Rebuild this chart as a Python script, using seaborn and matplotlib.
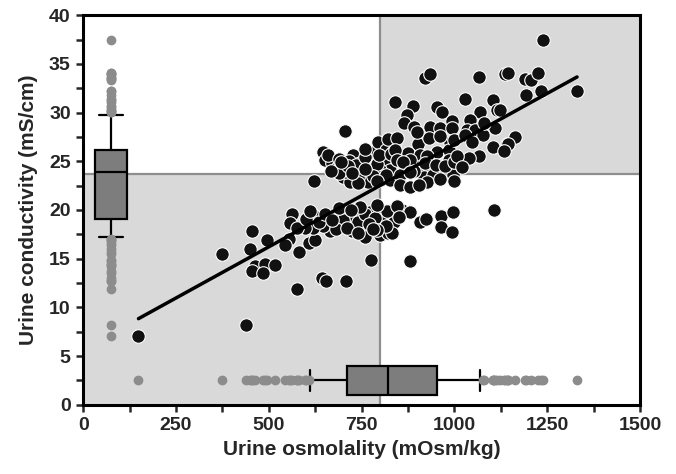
import numpy as np
import pandas as pd
import seaborn as sns
import matplotlib.pyplot as plt
from matplotlib.ticker import MultipleLocator

# urine osmolality (mOsm/kg) and conductivity (mS/cm)
osm = [149, 438, 373, 454, 495, 448, 463, 490, 517, 456, 484, 577, 643, 654, 707,
       775, 881, 553, 544, 580, 607, 625,
       562, 558, 620, 652, 683, 710, 733, 751, 773, 800, 827, 840, 800, 773, 755,
       724, 692, 665, 647, 620, 598, 575, 800, 822, 831, 858, 881, 836, 831, 908,
       924, 963, 997, 963, 993, 1107, 700, 740, 760, 785, 815, 790, 770, 635, 600,
       680, 710, 650, 760, 818, 690, 745, 790, 845, 610, 670, 720, 780, 850, 740,
       706, 646, 652, 670, 683, 701, 719, 706, 728, 724, 746, 751, 782, 795, 809,
       827, 800, 773, 768, 800, 827, 840, 849, 622, 660, 690, 715, 735, 760, 790,
       815, 740, 688, 780, 815, 835, 760, 798, 820, 668, 712, 830, 740, 790, 760,
       725, 695,
       921, 935, 840, 888, 952, 966, 872, 863, 890, 935, 962, 993, 993, 845, 903,
       930, 988, 876, 908, 952, 984, 840, 845, 867, 899, 935, 970, 997, 854, 917,
       943, 881, 925, 984, 854, 925, 880, 905, 960, 1000, 860, 890, 920, 950, 975,
       1000, 880, 1000, 960, 900,
       1067, 1137, 1029, 1105, 1114, 1069, 1042, 1033, 1056, 1078, 1110, 1141,
       1029, 1047, 1105, 1065, 1038, 1006, 1020, 1238, 1143, 1190, 1206, 1224,
       1193, 1233, 1330, 1123, 1163, 1145, 1134, 1080]
cond = [7.1, 8.2, 15.5, 17.8, 16.9, 16.0, 14.3, 14.5, 14.4, 13.7, 13.5, 11.9, 13.0, 12.7, 12.7,
        14.9, 14.8, 17.0, 16.4, 15.7, 16.6, 16.9,
        19.6, 18.7, 19.5, 19.3, 19.4, 19.3, 19.4, 19.3, 19.8, 20.0, 19.7, 19.0, 19.0, 19.0, 18.3,
        17.8, 18.5, 17.8, 18.4, 18.1, 18.1, 18.1, 17.4, 17.6, 20.0, 20.0, 19.8, 18.8, 17.6, 18.8,
        19.1, 19.4, 19.8, 18.3, 17.7, 20.0, 19.0, 18.8, 19.6, 19.2, 18.4, 17.9, 18.6, 18.8, 19.1,
        18.0, 18.2, 19.6, 17.2, 19.9, 20.2, 20.3, 20.5, 20.4, 19.9, 19.0, 20.0, 18.0, 19.3, 17.6,
        28.1, 26.0, 25.1, 24.8, 24.3, 23.4, 22.9, 23.9, 25.6, 24.3, 24.8, 23.9, 26.0, 27.0, 25.0,
        24.1, 24.1, 24.1, 22.9, 23.1, 23.1, 27.0, 25.3, 23.0, 25.6, 25.2, 25.0, 24.6, 25.4, 24.7,
        26.2, 23.4, 23.8, 23.5, 23.6, 26.0, 26.3, 25.6, 27.3, 24.0, 24.5, 25.7, 22.8, 23.0, 24.2,
        23.8, 24.9,
        33.5, 34.0, 31.1, 30.7, 30.6, 30.1, 29.7, 28.9, 28.5, 28.5, 28.4, 29.1, 28.4, 27.4, 26.8,
        27.4, 27.0, 25.8, 25.6, 26.0, 26.2, 26.2, 25.1, 24.4, 24.4, 24.1, 23.9, 23.6, 23.6, 23.4,
        23.6, 25.1, 25.5, 25.1, 22.6, 22.9, 22.4, 22.6, 23.2, 23.0, 24.9, 24.0, 24.8, 24.6, 24.5,
        24.9, 23.9, 27.2, 27.6, 28.0,
        33.7, 34.0, 31.4, 31.3, 30.3, 30.1, 29.2, 28.2, 28.2, 27.7, 28.4, 26.8,
        27.7, 27.0, 26.5, 25.5, 25.3, 25.5, 24.4, 37.4, 34.1, 33.4, 33.3, 34.1,
        31.8, 32.2, 32.2, 30.3, 27.5, 26.8, 26.1, 28.9]

osm_cut = 800
cond_cut = 23.7

df = pd.DataFrame({"osm": osm, "cond": cond})

sns.set_style("ticks")
plt.rcParams["font.family"] = ["Liberation Sans", "DejaVu Sans"]
plt.rcParams["font.weight"] = "bold"

fig, ax = plt.subplots(figsize=(6.76, 4.74), dpi=100)
fig.subplots_adjust(left=0.123, right=0.947, bottom=0.146, top=0.968)

# shaded quadrants + cut-off lines
shade = "#d9d9d9"
ax.fill_between([0, osm_cut], 0, cond_cut, color=shade, lw=0, zorder=0)
ax.fill_between([osm_cut, 1500], cond_cut, 40, color=shade, lw=0, zorder=0)
ax.axvline(osm_cut, color="#8e8e8e", lw=1.6, zorder=1)
ax.axhline(cond_cut, color="#8e8e8e", lw=1.6, zorder=1)

sns.scatterplot(data=df, x="osm", y="cond", color="#111111", edgecolor="white",
                linewidth=0.8, s=95, zorder=3, ax=ax)
sns.regplot(data=df, x="osm", y="cond", scatter=False, ci=None, truncate=True,
            color="black", line_kws={"lw": 2.5, "zorder": 4}, ax=ax)

box_kws = dict(native_scale=True, whis=(10, 90), color="#7d7d7d", saturation=1,
               linecolor="black", linewidth=1.6, fliersize=6,
               flierprops=dict(marker="o", markerfacecolor="#8c8c8c",
                               markeredgecolor="#8c8c8c"),
               zorder=5, ax=ax)
# conductivity box on the left, osmolality box along the bottom
sns.boxplot(x=np.full(len(df), 75.0), y=df["cond"], orient="x", width=88,
            capwidths=64, **box_kws)
sns.boxplot(x=df["osm"], y=np.full(len(df), 2.5), orient="y", width=3.0,
            capwidths=2.2, **box_kws)

ax.set_xlim(0, 1500)
ax.set_ylim(0, 40)
ax.xaxis.set_major_locator(MultipleLocator(250))
ax.xaxis.set_minor_locator(MultipleLocator(125))
ax.yaxis.set_major_locator(MultipleLocator(5))
ax.yaxis.set_minor_locator(MultipleLocator(2.5))
ax.tick_params(which="both", direction="out", length=5, width=1.8,
               top=False, right=False, labelsize=14, pad=4)
for sp in ax.spines.values():
    sp.set_visible(True)
    sp.set_linewidth(2.2)
    sp.set_color("black")

ax.set_xlabel("Urine osmolality (mOsm/kg)", fontsize=15, fontweight="bold", labelpad=4)
ax.set_ylabel("Urine conductivity (mS/cm)", fontsize=15, fontweight="bold", labelpad=8)

fig.savefig("out.png", dpi=100)
